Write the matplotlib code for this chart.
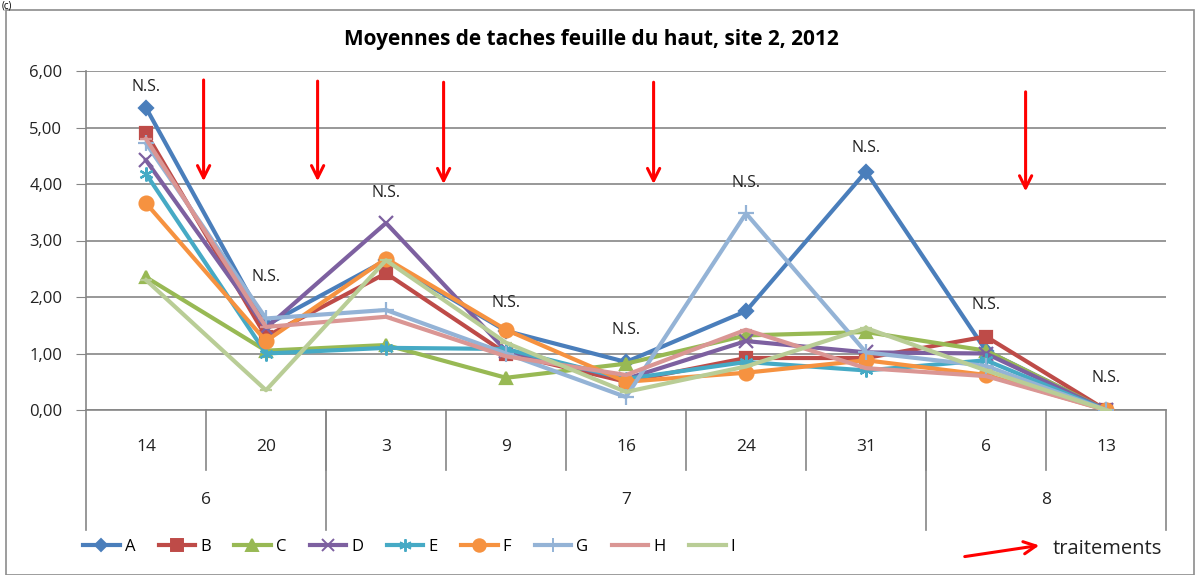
import matplotlib.pyplot as plt
from matplotlib.lines import Line2D
from matplotlib.patches import Rectangle, FancyArrowPatch

plt.rcParams['font.family'] = ['Open Sans', 'DejaVu Sans']

days = ["14", "20", "3", "9", "16", "24", "31", "6", "13"]
months = ["6", "7", "8"]
month_spans = [(0, 2), (2, 7), (7, 9)]  # category index ranges per month

series_names = ["A", "B", "C", "D", "E", "F", "G", "H", "I"]
A = [5.35, 1.50, 2.65, 1.40, 0.85, 1.75, 4.22, 1.05, 0.0]
B = [4.90, 1.30, 2.42, 1.00, 0.50, 0.92, 0.92, 1.30, 0.0]
C = [2.35, 1.05, 1.15, 0.57, 0.82, 1.32, 1.38, 1.05, 0.0]
D = [4.42, 1.45, 3.31, 1.05, 0.55, 1.22, 1.02, 1.00, 0.0]
E = [4.18, 1.00, 1.10, 1.08, 0.55, 0.85, 0.70, 0.88, 0.0]
F = [3.66, 1.22, 2.68, 1.42, 0.50, 0.66, 0.88, 0.62, 0.0]
G = [4.72, 1.62, 1.77, 1.00, 0.23, 3.48, 1.02, 0.78, 0.0]
H = [4.80, 1.47, 1.65, 0.95, 0.62, 1.42, 0.74, 0.60, 0.0]
I = [2.30, 0.35, 2.65, 1.19, 0.32, 0.77, 1.45, 0.70, 0.0]
values = [A, B, C, D, E, F, G, H, I]

colors = ["#4A7EBB", "#BE4B48", "#98B954", "#7D60A0", "#46AAC5",
          "#F69240", "#94B3D6", "#DA9694", "#B9CD96"]
markers = ["D", "s", "^", "x", (6, 2, 0), "o", "+", "_", "_"]
msizes = [7, 9, 9, 10, 10, 10, 11, 9, 9]

# N.S. label heights and treatment arrows (category position, top, tip)
ns_heights = [5.72, 2.35, 3.84, 1.89, 1.42, 4.02, 4.64, 1.86, 0.57]
treatments = [(0.48, 5.89, 4.0), (1.43, 5.87, 4.0), (2.48, 5.85, 3.95),
              (4.23, 5.85, 3.95), (7.33, 5.68, 3.82)]

text_col = "#222222"
grid_col = "#868686"

fig = plt.figure(figsize=(11.99, 5.75), dpi=100)
fig.patches.append(Rectangle((6 / 1199, 0.0), 1188 / 1199, 565 / 575,
                             transform=fig.transFigure, fill=False,
                             edgecolor="#8c8c8c", linewidth=1.2))
fig.text(2 / 1199, 1.0, "(c)", fontsize=7, ha="left", va="top")

ax = fig.add_axes([86 / 1199, 165 / 575, 1080 / 1199, 339 / 575])
ax.set_xlim(-0.5, len(days) - 0.5)
ax.set_ylim(0, 6)
ax.set_yticks(range(7))
ax.set_yticklabels([f"{v},00" for v in range(7)], fontsize=12, color=text_col)
ax.tick_params(axis="y", length=7, color=grid_col, pad=10)
ax.set_xticks([])
ax.grid(axis="y", color=grid_col, linewidth=1.2)
ax.set_axisbelow(True)
for side in ["top", "right", "bottom"]:
    ax.spines[side].set_visible(False)
ax.spines["left"].set_color(grid_col)
ax.spines["left"].set_linewidth(1.2)

x = list(range(len(days)))
for name, vals, col, mk, ms in zip(series_names, values, colors, markers, msizes):
    ax.plot(x, vals, color=col, linewidth=3, marker=mk, markersize=ms,
            markeredgewidth=1.6, markeredgecolor=col, label=name, zorder=3)

for i, h in enumerate(ns_heights):
    ax.text(i, h, "N.S.", ha="center", va="center", fontsize=11.5, color=text_col)

for xp, top, tip in treatments:
    ax.annotate("", xy=(xp, tip), xytext=(xp, top),
                arrowprops=dict(arrowstyle="->", color="#FF0000", lw=2.2,
                                mutation_scale=22), zorder=5)

# category table below the plot
tr = ax.get_xaxis_transform()
day_low = -60 / 339
month_low = -120 / 339
ax.plot([-0.5, len(days) - 0.5], [0, 0], transform=tr, color=grid_col,
        linewidth=1.2, clip_on=False)
for i in range(1, len(days)):
    ax.plot([i - 0.5, i - 0.5], [0, day_low], transform=tr, color=grid_col,
            linewidth=1.2, clip_on=False)
for i, d in enumerate(days):
    ax.text(i, -37 / 339, d, transform=tr, ha="center", va="center",
            fontsize=12.5, color=text_col)
ax.plot([-0.5, -0.5], [0, month_low], transform=tr, color=grid_col,
        linewidth=1.2, clip_on=False)
for (a, b), m in zip(month_spans, months):
    ax.plot([b - 0.5, b - 0.5], [0, month_low], transform=tr, color=grid_col,
            linewidth=1.2, clip_on=False)
    ax.text((a + b - 1) / 2, -90 / 339, m, transform=tr, ha="center",
            va="center", fontsize=12.5, color=text_col)

fig.text(591 / 1199, 1 - 40 / 575, "Moyennes de taches feuille du haut, site 2, 2012",
         ha="center", va="center", fontsize=15, fontweight="bold")

handles = [Line2D([], [], color=c, linewidth=3, marker=m, markersize=s * 0.9,
                  markeredgewidth=1.4, markeredgecolor=c)
           for c, m, s in zip(colors, markers, msizes)]
fig.legend(handles, series_names, loc="center left",
           bbox_to_anchor=(68 / 1199, 1 - 547 / 575), ncol=9, frameon=False,
           fontsize=12, handlelength=2.2, handletextpad=0.3,
           columnspacing=1.4)

fig.patches.append(FancyArrowPatch(
    (962 / 1199, 1 - 557 / 575), (1042 / 1199, 1 - 545 / 575),
    transform=fig.transFigure, arrowstyle="->", color="#FF0000", lw=2.2,
    mutation_scale=22))
fig.text(1053 / 1199, 1 - 549 / 575, "traitements", ha="left", va="center",
         fontsize=14.5, color=text_col)

fig.savefig("out.png", dpi=100, facecolor="white")
